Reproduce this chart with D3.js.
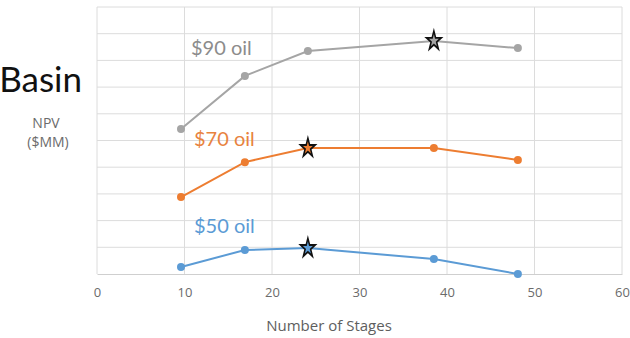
<!DOCTYPE html>
<html>
<head>
<meta charset="utf-8">
<script src="https://cdn.jsdelivr.net/npm/d3@7"></script>
<style>
  html, body { margin: 0; padding: 0; background: #fff; }
  svg { display: block; }
</style>
</head>
<body>
<svg id="chart" width="630" height="338"></svg>
<script>
// Stage counts tested for each well design
const stages = [9.6, 16.9, 24.1, 38.5, 48.1];

// NPV per oil price scenario (in gridline units, $MM scale not labelled)
const npv90 = [5.43, 7.42, 8.35, 8.73, 8.46];
const npv70 = [2.88, 4.19, 4.72, 4.72, 4.27];
const npv50 = [0.26, 0.9, 0.97, 0.56, 0.0];

// Index of the optimum point in each scenario
const best90 = 3, best70 = 2, best50 = 2;

const seriesNames = ["$90 oil", "$70 oil", "$50 oil"];
const xTicks = [0, 10, 20, 30, 40, 50, 60];
const yGrid = d3.range(0, 11);

const series = [
  { name: seriesNames[0], values: npv90, best: best90, color: "#a5a5a5", text: "#8c8c8c", lx: 191, ly: 50 },
  { name: seriesNames[1], values: npv70, best: best70, color: "#ed7d31", text: "#e8833f", lx: 194, ly: 141 },
  { name: seriesNames[2], values: npv50, best: best50, color: "#5b9bd5", text: "#5b9bd5", lx: 194, ly: 228 }
];

const svg = d3.select("#chart");
const font = "Lato, 'Open Sans', sans-serif";
const axisFont = "'Open Sans', sans-serif";

const x = d3.scaleLinear().domain([0, 60]).range([97, 622]);
const y = d3.scaleLinear().domain([0, 10]).range([274, 7]);

// Gridlines
svg.append("g").selectAll("line").data(yGrid.slice(1)).join("line")
  .attr("x1", x(0)).attr("x2", x(60))
  .attr("y1", d => y(d)).attr("y2", d => y(d))
  .attr("stroke", "#dcdcdc").attr("stroke-width", 1);
svg.append("g").selectAll("line").data(xTicks).join("line")
  .attr("x1", d => x(d)).attr("x2", d => x(d))
  .attr("y1", y(0)).attr("y2", y(10))
  .attr("stroke", "#dcdcdc").attr("stroke-width", 1);

// X axis
const xAxis = svg.append("g")
  .attr("transform", `translate(0,${y(0)})`)
  .call(d3.axisBottom(x).tickValues(xTicks).tickSize(0).tickPadding(14));
xAxis.select(".domain").attr("stroke", "#cfcfcf");
xAxis.selectAll("text").attr("font-family", axisFont).attr("font-size", 13).attr("fill", "#6b6b6b");

svg.append("text")
  .attr("x", 329).attr("y", 331)
  .attr("text-anchor", "middle")
  .attr("font-family", axisFont).attr("font-size", 15).attr("fill", "#5e5e5e")
  .text("Number of Stages");

// Y axis title
svg.append("text")
  .attr("x", 46).attr("y", 128)
  .attr("text-anchor", "middle")
  .attr("font-family", axisFont).attr("font-size", 14).attr("fill", "#6b6b6b")
  .text("NPV");
svg.append("text")
  .attr("x", 48).attr("y", 147)
  .attr("text-anchor", "middle")
  .attr("font-family", axisFont).attr("font-size", 14).attr("fill", "#6b6b6b")
  .text("($MM)");

// Partial slide title
svg.append("text")
  .attr("x", 82).attr("y", 92)
  .attr("text-anchor", "end")
  .attr("font-family", font).attr("font-size", 35).attr("fill", "#111")
  .text("Basin");

const line = d3.line().x((d, i) => x(stages[i])).y(d => y(d));
const star = d3.symbol().type(d3.symbolStar).size(90);

series.forEach(s => {
  const g = svg.append("g");
  g.append("path").datum(s.values)
    .attr("d", line)
    .attr("fill", "none").attr("stroke", s.color).attr("stroke-width", 2);
  g.selectAll("circle").data(s.values.map((v, i) => ({ v, i })).filter(d => d.i !== s.best))
    .join("circle")
    .attr("cx", d => x(stages[d.i])).attr("cy", d => y(d.v))
    .attr("r", 4).attr("fill", s.color);
  g.append("path")
    .attr("d", star)
    .attr("transform", `translate(${x(stages[s.best])},${y(s.values[s.best])}) scale(0.85,1.1)`)
    .attr("fill", s.color).attr("stroke", "#111").attr("stroke-width", 1.8);
  g.append("text")
    .attr("x", s.lx).attr("y", s.ly)
    .attr("dominant-baseline", "middle")
    .attr("font-family", font).attr("font-size", 20).attr("fill", s.text)
    .text(s.name);
});
</script>
</body>
</html>
